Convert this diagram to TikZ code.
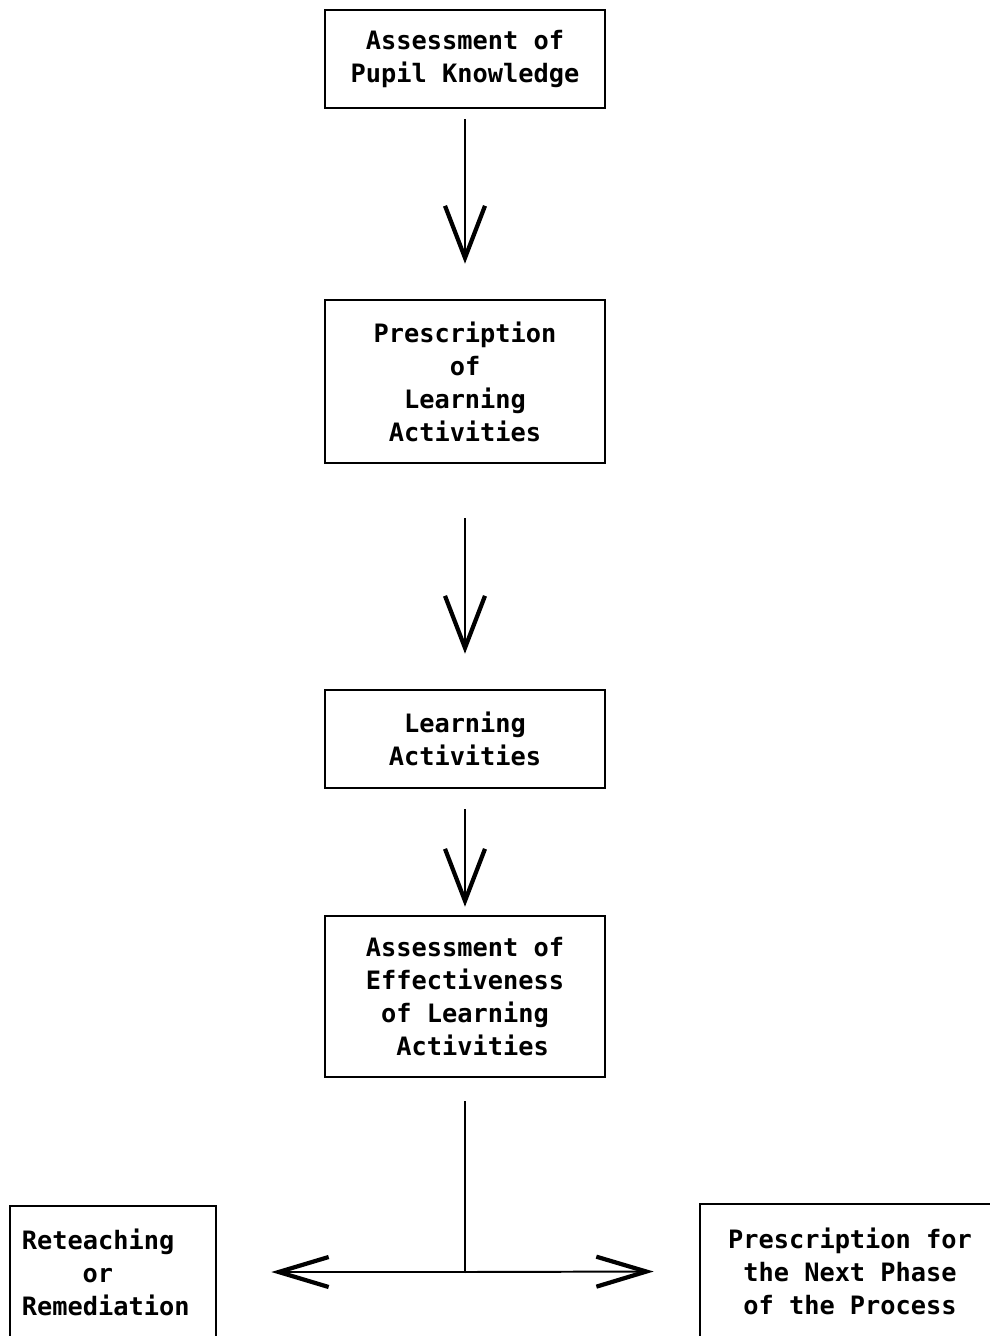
\documentclass[tikz,border=0pt]{standalone}
\usepackage{fontspec}
\setmonofont{DejaVu Sans Mono}
\usetikzlibrary{arrows.meta}

\tikzset{
    stepbox/.style={draw, line width=1.8pt, align=center, inner sep=0pt,
        font=\ttfamily\bfseries\fontsize{18}{23.5}\selectfont},
    flow/.style={line width=1.4pt, -{Straight Barb[length=1.3cm,width=1cm,line width=3pt]}},
    side/.style={line width=1.4pt, -{Straight Barb[length=1.25cm,width=0.75cm,line width=3pt]}},
}

\begin{document}
\begin{tikzpicture}[x=0.025cm, y=-0.025cm]
        \useasboundingbox (0,0) rectangle (990,1336);
        \clip (0,0) rectangle (990,1336);

        \node[stepbox, minimum width=7cm, minimum height=2.45cm] (assess) at (465,59) {Assessment of\\Pupil Knowledge};
        \node[stepbox, minimum width=7cm, minimum height=4.075cm] (prescr) at (465,381.5) {Prescription\\of\\Learning\\Activities};
        \node[stepbox, minimum width=7cm, minimum height=2.45cm] (learn) at (465,739) {Learning\\Activities};
        \node[stepbox, minimum width=7cm, minimum height=4.025cm] (effect) at (465,996.5) {Assessment of\\Effectiveness\\of Learning\\\hspace*{0.6em}Activities};
        \node[stepbox, align=left, text width=4.55cm, inner xsep=0.3cm, minimum height=3.3cm] (reteach) at (113,1272) {Reteaching\\\hspace*{2.4em}or\\Remediation};
        \node[stepbox, minimum width=7.5cm, minimum height=3.35cm] (next) at (850,1271) {Prescription for\\the Next Phase\\of the Process};

        \coordinate (split) at (effect.south |- reteach.east);

        \draw[flow, shorten <=0.25cm, shorten >=0.875cm] (assess) -- (prescr);
        \draw[flow, shorten <=1.35cm, shorten >=0.875cm] (prescr) -- (learn);
        \draw[flow, shorten <=0.5cm, shorten >=0.2cm] (learn) -- (effect);
        \draw[line width=1.4pt, shorten <=0.575cm] (effect) -- (split);
        \draw[side, shorten >=1.35cm] (split) -- (reteach);
        \draw[side, shorten >=1.125cm] (split) -- (next);

    \end{tikzpicture}
\end{document}
